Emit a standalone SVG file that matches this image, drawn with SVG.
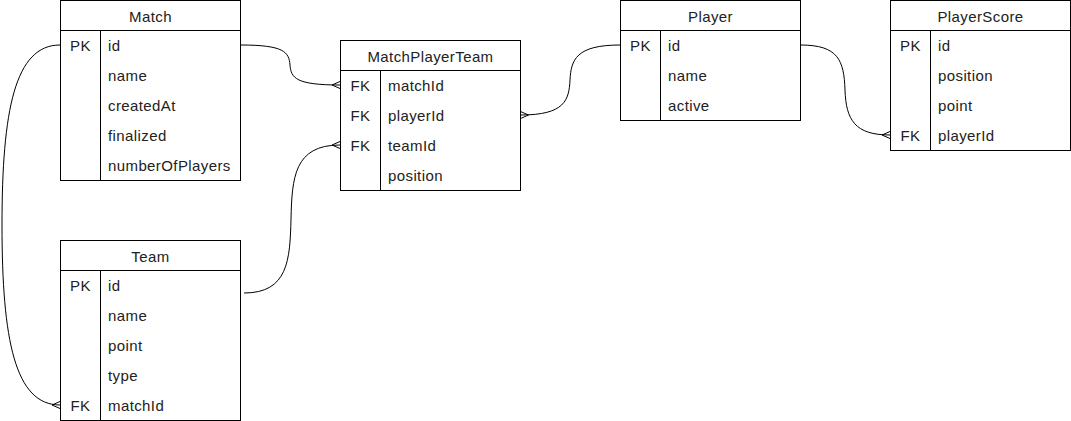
<svg xmlns="http://www.w3.org/2000/svg" width="1071" height="421" viewBox="0 0 1071 421">
<style>
.box{fill:#fff;stroke:#000;stroke-width:1}
.ln{stroke:#000;stroke-width:1;fill:none}
.t{font-family:"Liberation Sans",Arial,sans-serif;font-size:15px;fill:#222;letter-spacing:0.4px}
.h{text-anchor:middle}
.k{text-anchor:middle}
.edge{fill:none;stroke:#000;stroke-width:1;marker-end:url(#many)}
</style>
<defs>
<marker id="many" viewBox="-10 -5 12 10" markerWidth="12" markerHeight="10" refX="0" refY="0" markerUnits="userSpaceOnUse" orient="auto">
<path d="M0 -3.5 L-8 0 L0 3.5" fill="none" stroke="#000" stroke-width="1"/>
</marker>
</defs>
<rect width="1071" height="421" fill="#fff"/>
<g id="connectors">
<path class="edge" d="M240.5 45 C284 45 289 52 290 65 C291 78 296 85 340 85"/>
<path class="edge" d="M620 45 C576 45 571 60 570 80 C569 100 565 115 520.5 115"/>
<path class="edge" d="M244 293 C288 293 290 260 291 219 C292 178 294 145 340 145"/>
<path class="edge" d="M60 45 C15 45 2 110 2 225 C2 340 15 405 60 405"/>
<path class="edge" d="M800.5 45 C838 45 844 60 845 90 C846 120 855 135 890 135"/>
</g>
<g id="Match">
<rect class="box" x="60.5" y="0.5" width="180" height="180"/>
<path class="ln" d="M60.5 30.5H240.5M100.5 30.5V180.5"/>
<text class="t h" x="150.5" y="21.5">Match</text>
<text class="t k" x="80.5" y="51">PK</text>
<text class="t" x="108" y="51">id</text>
<text class="t" x="108" y="81">name</text>
<text class="t" x="108" y="111">createdAt</text>
<text class="t" x="108" y="141">finalized</text>
<text class="t" x="108" y="171">numberOfPlayers</text>
</g>
<g id="Team">
<rect class="box" x="60.5" y="240.5" width="180" height="180"/>
<path class="ln" d="M60.5 270.5H240.5M100.5 270.5V420.5"/>
<text class="t h" x="150.5" y="261.5">Team</text>
<text class="t k" x="80.5" y="291">PK</text>
<text class="t" x="108" y="291">id</text>
<text class="t" x="108" y="321">name</text>
<text class="t" x="108" y="351">point</text>
<text class="t" x="108" y="381">type</text>
<text class="t k" x="80.5" y="411">FK</text>
<text class="t" x="108" y="411">matchId</text>
</g>
<g id="MatchPlayerTeam">
<rect class="box" x="340.5" y="40.5" width="180" height="150"/>
<path class="ln" d="M340.5 70.5H520.5M380.5 70.5V190.5"/>
<text class="t h" x="430.5" y="61.5">MatchPlayerTeam</text>
<text class="t k" x="360.5" y="91">FK</text>
<text class="t" x="388" y="91">matchId</text>
<text class="t k" x="360.5" y="121">FK</text>
<text class="t" x="388" y="121">playerId</text>
<text class="t k" x="360.5" y="151">FK</text>
<text class="t" x="388" y="151">teamId</text>
<text class="t" x="388" y="181">position</text>
</g>
<g id="Player">
<rect class="box" x="620.5" y="0.5" width="180" height="120"/>
<path class="ln" d="M620.5 30.5H800.5M660.5 30.5V120.5"/>
<text class="t h" x="710.5" y="21.5">Player</text>
<text class="t k" x="640.5" y="51">PK</text>
<text class="t" x="668" y="51">id</text>
<text class="t" x="668" y="81">name</text>
<text class="t" x="668" y="111">active</text>
</g>
<g id="PlayerScore">
<rect class="box" x="890.5" y="0.5" width="180" height="150"/>
<path class="ln" d="M890.5 30.5H1070.5M930.5 30.5V150.5"/>
<text class="t h" x="980.5" y="21.5">PlayerScore</text>
<text class="t k" x="910.5" y="51">PK</text>
<text class="t" x="938" y="51">id</text>
<text class="t" x="938" y="81">position</text>
<text class="t" x="938" y="111">point</text>
<text class="t k" x="910.5" y="141">FK</text>
<text class="t" x="938" y="141">playerId</text>
</g>
</svg>
